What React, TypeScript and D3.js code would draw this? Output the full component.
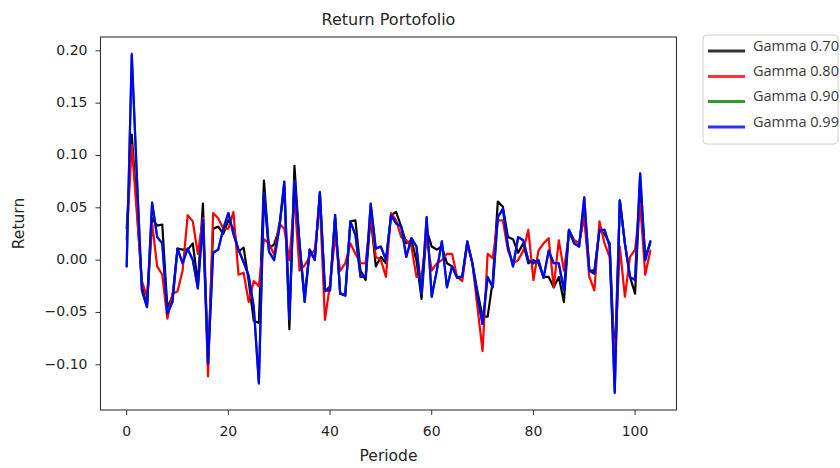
import React from "react";
import * as d3 from "d3";

// Portfolio return per period for each discount factor gamma
const periods: number[] = Array.from({ length: 104 }, (_, i) => i);

const gamma070: number[] = [
  0.030, 0.120, 0.050, -0.025, -0.044, 0.040, 0.033, 0.034, -0.045, -0.035,
  0.011, 0.010, 0.010, 0.016, -0.022, 0.054, -0.099, 0.030, 0.032, 0.025,
  0.038, 0.030, 0.008, 0.012, -0.020, -0.058, -0.060, 0.076, 0.011, 0.015,
  0.030, 0.070, -0.066, 0.090, 0.015, -0.035, 0.010, 0.001, 0.063, -0.030,
  -0.025, 0.041, -0.032, -0.034, 0.037, 0.038, -0.010, -0.019, 0.042, -0.006,
  0.003, -0.003, 0.043, 0.046, 0.032, 0.016, 0.019, 0.000, -0.037, 0.029,
  0.013, 0.010, 0.013, -0.003, -0.006, -0.016, -0.016, 0.016, -0.003, -0.030,
  -0.054, -0.054, -0.020, 0.056, 0.051, 0.022, 0.020, 0.007, 0.016, -0.003,
  0.000, -0.003, -0.016, -0.016, -0.026, -0.016, -0.040, 0.029, 0.019, 0.016,
  0.045, -0.010, -0.010, 0.029, 0.025, 0.016, -0.099, 0.057, 0.016, -0.016,
  -0.032, 0.070, 0.003, 0.016,
];

const gamma080: number[] = [
  0.020, 0.110, 0.045, -0.020, -0.035, 0.035, -0.006, -0.014, -0.056, -0.032,
  -0.030, -0.010, 0.043, 0.037, 0.006, 0.040, -0.111, 0.045, 0.040, 0.030,
  0.030, 0.046, -0.014, -0.012, -0.040, -0.020, -0.025, 0.020, 0.016, 0.005,
  0.035, 0.030, 0.000, 0.060, -0.010, -0.005, 0.003, 0.010, 0.055, -0.057,
  -0.023, 0.022, -0.010, -0.003, 0.016, 0.006, -0.003, -0.003, 0.042, 0.003,
  0.000, -0.016, 0.045, 0.038, 0.022, 0.019, 0.013, -0.016, -0.016, 0.022,
  -0.010, -0.003, 0.000, 0.006, 0.006, -0.016, -0.020, 0.016, -0.003, -0.045,
  -0.087, 0.006, 0.002, 0.038, 0.038, 0.009, -0.003, 0.000, 0.009, 0.029,
  -0.019, 0.009, 0.016, 0.021, -0.026, 0.019, -0.010, 0.025, 0.019, 0.016,
  0.041, -0.016, -0.029, 0.037, 0.016, 0.003, -0.099, 0.013, -0.035, 0.003,
  0.010, 0.054, -0.014, 0.009,
];

const gamma090: number[] = [
  -0.006, 0.196, 0.080, -0.029, -0.045, 0.055, 0.022, 0.016, -0.051, -0.040,
  0.011, -0.003, 0.011, 0.000, -0.027, 0.038, -0.099, 0.007, 0.010, 0.030,
  0.045, 0.025, 0.010, -0.002, -0.015, -0.045, -0.117, 0.064, 0.008, 0.000,
  0.030, 0.075, -0.056, 0.076, 0.016, -0.040, 0.010, 0.000, 0.065, -0.029,
  -0.029, 0.043, -0.032, -0.033, 0.037, 0.024, -0.016, -0.016, 0.054, 0.011,
  0.013, 0.000, 0.043, 0.035, 0.032, 0.003, 0.021, 0.013, -0.032, 0.041,
  -0.035, -0.010, 0.018, -0.026, -0.006, -0.017, -0.016, 0.018, -0.003, -0.035,
  -0.061, -0.016, -0.026, 0.041, 0.049, 0.013, -0.006, 0.022, 0.019, 0.000,
  -0.003, 0.000, -0.017, 0.009, -0.003, -0.003, -0.029, 0.029, 0.016, 0.013,
  0.060, -0.010, -0.013, 0.029, 0.029, 0.013, -0.126, 0.057, 0.016, -0.016,
  -0.019, 0.083, 0.000, 0.018,
];

const gamma099: number[] = [
  -0.006, 0.197, 0.080, -0.029, -0.045, 0.055, 0.022, 0.016, -0.051, -0.040,
  0.011, -0.003, 0.011, 0.000, -0.027, 0.038, -0.099, 0.007, 0.010, 0.030,
  0.045, 0.025, 0.010, -0.002, -0.015, -0.045, -0.118, 0.064, 0.008, 0.000,
  0.030, 0.075, -0.056, 0.076, 0.016, -0.040, 0.010, 0.000, 0.065, -0.029,
  -0.029, 0.043, -0.032, -0.033, 0.037, 0.024, -0.016, -0.016, 0.054, 0.011,
  0.013, 0.000, 0.043, 0.035, 0.032, 0.003, 0.021, 0.013, -0.032, 0.041,
  -0.035, -0.010, 0.018, -0.026, -0.006, -0.017, -0.016, 0.018, -0.003, -0.035,
  -0.061, -0.016, -0.026, 0.041, 0.049, 0.013, -0.006, 0.022, 0.019, 0.000,
  -0.003, 0.000, -0.017, 0.009, -0.003, -0.003, -0.029, 0.029, 0.016, 0.013,
  0.060, -0.010, -0.013, 0.029, 0.029, 0.013, -0.127, 0.057, 0.016, -0.016,
  -0.019, 0.083, 0.000, 0.018,
];

const seriesNames: string[] = ["Gamma 0.70", "Gamma 0.80", "Gamma 0.90", "Gamma 0.99"];
const seriesColors: string[] = ["#000000", "#ff0000", "#008000", "#0000ff"];
const seriesValues: number[][] = [gamma070, gamma080, gamma090, gamma099];

const xTicks: number[] = [0, 20, 40, 60, 80, 100];
const yTicks: number[] = [-0.1, -0.05, 0, 0.05, 0.1, 0.15, 0.2];

const titleText = "Return Portofolio";
const xLabel = "Periode";
const yLabel = "Return";

const W = 840;
const H = 468;
const plot = { left: 100.5, right: 676.5, top: 37, bottom: 410 };
const axisFont = "'DejaVu Sans', sans-serif";
const textColor = "#262626";

export default function App() {
  const all = seriesValues.flat();
  const yMin = d3.min(all) as number;
  const yMax = d3.max(all) as number;
  const yPad = (yMax - yMin) * 0.05;
  const xMax = d3.max(periods) as number;
  const xPad = xMax * 0.05;

  const x = d3.scaleLinear().domain([-xPad, xMax + xPad]).range([plot.left, plot.right]);
  const y = d3.scaleLinear().domain([yMin - yPad, yMax + yPad]).range([plot.bottom, plot.top]);

  const line = d3
    .line<number>()
    .x((_, i) => x(periods[i]))
    .y((v) => y(v));

  const legendX = 703;
  const legendY = 35;
  const legendRows = [51, 76.5, 101.5, 127];

  return (
    <svg
      width={W}
      height={H}
      viewBox={`0 0 ${W} ${H}`}
      style={{ position: "absolute", left: 0, top: 0, background: "#fff" }}
    >
      <rect x={0} y={0} width={W} height={H} fill="#fff" />
      <text
        x={(plot.left + plot.right) / 2}
        y={20}
        textAnchor="middle"
        dominantBaseline="middle"
        fontFamily={axisFont}
        fontSize={16}
        fill={textColor}
      >
        {titleText}
      </text>

      <g fill="none" strokeWidth={2.2} strokeLinejoin="round" strokeLinecap="round">
        {seriesValues.map((vals, k) => (
          <path key={seriesNames[k]} d={line(vals) ?? ""} stroke={seriesColors[k]} />
        ))}
      </g>

      <rect
        x={plot.left}
        y={plot.top}
        width={plot.right - plot.left}
        height={plot.bottom - plot.top}
        fill="none"
        stroke="#333"
        strokeWidth={1.1}
      />

      {xTicks.map((t) => (
        <g key={`x${t}`}>
          <line x1={x(t)} x2={x(t)} y1={plot.bottom} y2={plot.bottom + 5} stroke="#333" strokeWidth={1} />
          <text
            x={x(t)}
            y={plot.bottom + 22}
            textAnchor="middle"
            dominantBaseline="middle"
            fontFamily={axisFont}
            fontSize={14}
            fill={textColor}
          >
            {d3.format("d")(t)}
          </text>
        </g>
      ))}

      {yTicks.map((t) => (
        <g key={`y${t}`}>
          <line x1={plot.left - 5} x2={plot.left} y1={y(t)} y2={y(t)} stroke="#333" strokeWidth={1} />
          <text
            x={plot.left - 13}
            y={y(t)}
            textAnchor="end"
            dominantBaseline="middle"
            fontFamily={axisFont}
            fontSize={14}
            fill={textColor}
          >
            {d3.format(".2f")(t).replace("-", "\u2212")}
          </text>
        </g>
      ))}

      <text
        x={(plot.left + plot.right) / 2}
        y={456}
        textAnchor="middle"
        dominantBaseline="middle"
        fontFamily={axisFont}
        fontSize={15.5}
        fill={textColor}
      >
        {xLabel}
      </text>
      <text
        transform={`translate(19, ${(plot.top + plot.bottom) / 2}) rotate(-90)`}
        textAnchor="middle"
        dominantBaseline="middle"
        fontFamily={axisFont}
        fontSize={15.5}
        fill={textColor}
      >
        {yLabel}
      </text>

      <rect
        x={legendX}
        y={legendY}
        width={135}
        height={109}
        rx={4}
        fill="#fff"
        stroke="#d0d0d0"
        strokeWidth={1}
      />
      {seriesNames.map((name, k) => (
        <g key={`lg${name}`}>
          <line
            x1={708}
            x2={745}
            y1={legendRows[k]}
            y2={legendRows[k]}
            stroke={seriesColors[k]}
            strokeWidth={2.8}
            opacity={0.8}
          />
          <text
            x={753}
            y={legendRows[k] - 4}
            dominantBaseline="middle"
            fontFamily="'Open Sans', sans-serif"
            fontWeight={400}
            fontSize={14.5}
            fill="#3a3a3a"
          >
            {name}
          </text>
        </g>
      ))}
    </svg>
  );
}
